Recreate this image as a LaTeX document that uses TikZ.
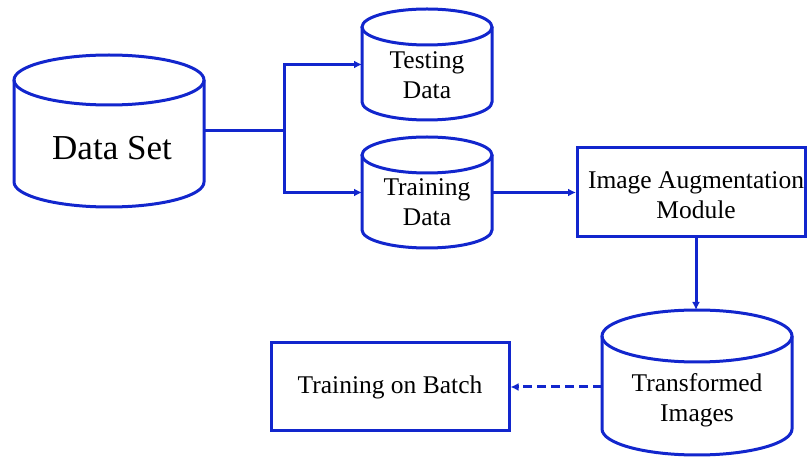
\documentclass[tikz,border=0pt]{standalone}
\usepackage{fontspec}
\setmainfont{Liberation Serif}
\usetikzlibrary{arrows.meta}
\definecolor{ln}{RGB}{18,38,205}
\tikzset{
  ln/.style={draw=ln, line width=3pt},
  body/.style={inner sep=0pt, outer sep=0pt},
  lbl/.style={align=center, font=\fontsize{25.5}{30}\selectfont, inner sep=0pt},
  conn/.style={ln, -{Latex[length=8pt,width=8pt]}},
  boxst/.style={ln, rectangle, inner sep=0pt}
}
\begin{document}
\begin{tikzpicture}[x=1pt,y=1pt]
\useasboundingbox (0,0) rectangle (807,461);
% Data Set cylinder
\draw[ln] (14,381) -- (14,279) arc[start angle=180,end angle=360,x radius=95,y radius=25] -- (204,381);
\draw[ln] (109,381) ellipse[x radius=95,y radius=25];
\node[body, minimum width=190pt, minimum height=102pt] (ds) at (109,330) {};
\node[lbl, font=\fontsize{35}{40}\selectfont] (dst) at (112,313) {Data Set};
% Testing Data cylinder
\draw[ln] (362,434) -- (362,359) arc[start angle=180,end angle=360,x radius=65,y radius=18] -- (492,434);
\draw[ln] (427,434) ellipse[x radius=65,y radius=18];
\node[body, minimum width=130pt, minimum height=75pt] (te) at (427,396.5) {};
\node[lbl] (tet) at (427,386) {Testing\\Data};
% Training Data cylinder
\draw[ln] (362,306) -- (362,231) arc[start angle=180,end angle=360,x radius=65,y radius=18] -- (492,306);
\draw[ln] (427,306) ellipse[x radius=65,y radius=18];
\node[body, minimum width=130pt, minimum height=75pt] (tr) at (427,268.5) {};
\node[lbl] (trt) at (427,259) {Training\\Data};
% Image augmentation box
\node[boxst, minimum width=228pt, minimum height=89pt] (ia) at (691.5,268.5) {};
\node[lbl] (iat) at (696,266) {Image Augmentation\\Module};
% Transformed images cylinder
\draw[ln] (602,125) -- (602,32) arc[start angle=180,end angle=360,x radius=95,y radius=26] -- (792,125);
\draw[ln] (697,125) ellipse[x radius=95,y radius=26];
\node[body, minimum width=190pt, minimum height=93pt] (ti) at (697,78.5) {};
\node[lbl] (tit) at (697,61) {Transformed\\Images};
% Training on batch box
\node[boxst, minimum width=238pt, minimum height=88pt] (tob) at (390,74) {};
\node[lbl] (tobt) at (390,74) {Training on Batch};
% connectors
\coordinate (j) at (284,330);
\draw[ln] (ds.east) -- (j);
\draw[conn] (j) |- (te.west);
\draw[conn] (j) |- (tr.west);
\draw[conn] (tr.east) -- (ia.west);
\draw[conn] (ia.south -| 696,0) -- (696,151);
\draw[conn, dashed, dash pattern=on 9pt off 5pt] (tob.east -| ti.west) -- (tob.east);
\end{tikzpicture}
\end{document}
